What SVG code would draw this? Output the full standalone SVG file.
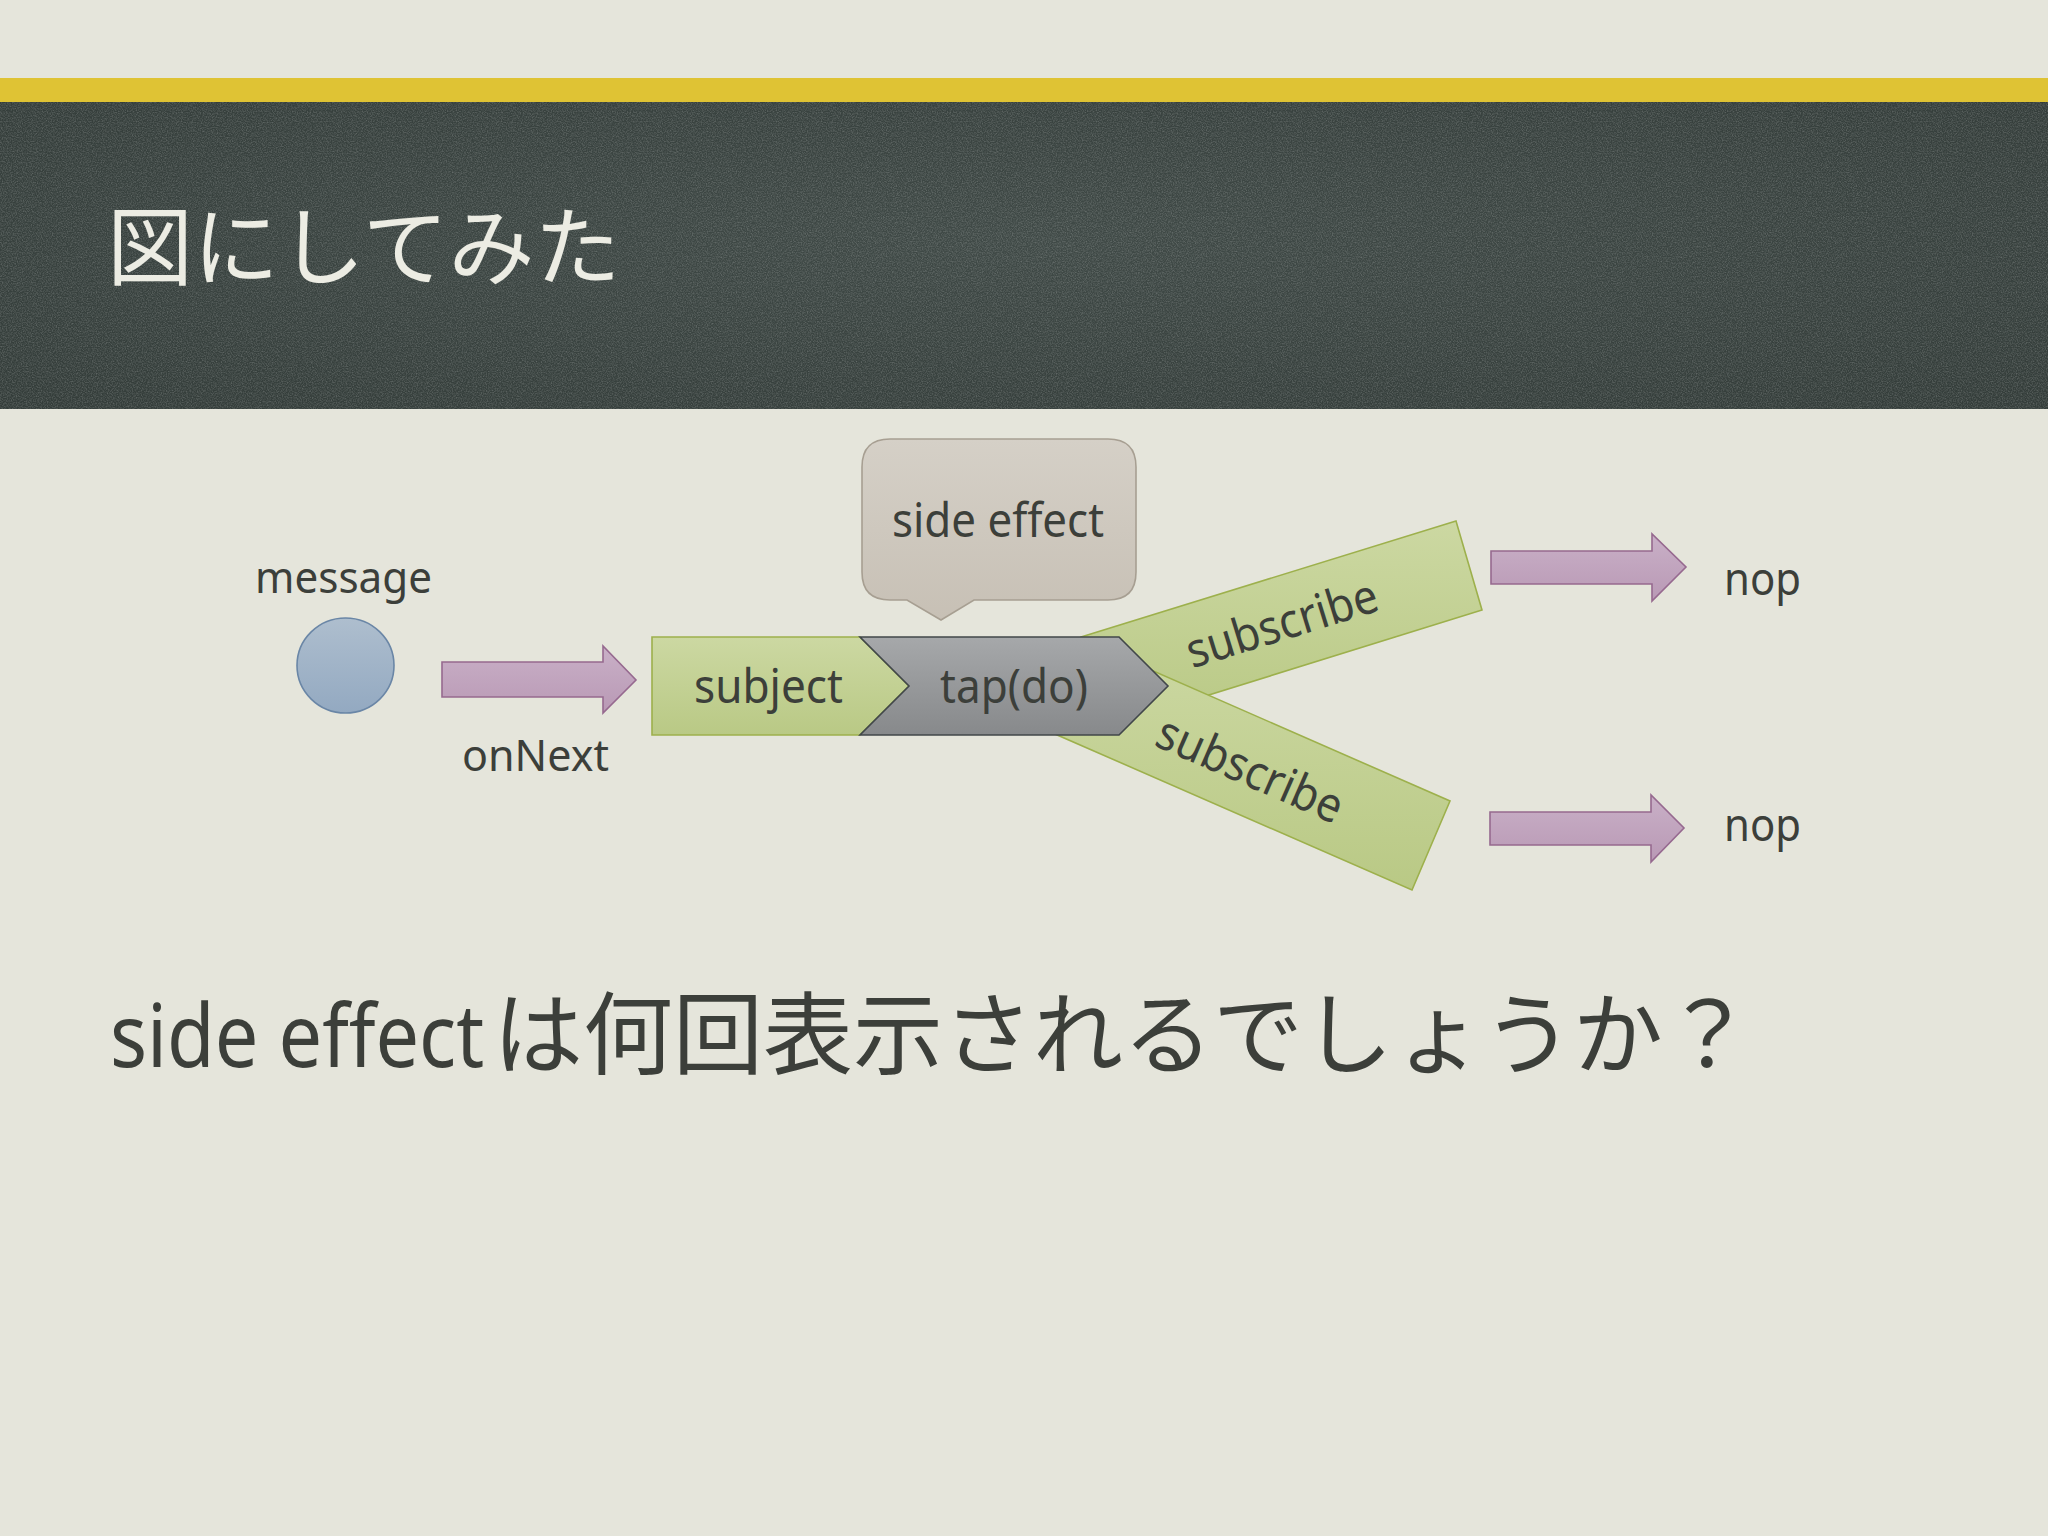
<svg xmlns="http://www.w3.org/2000/svg" width="2048" height="1536" viewBox="0 0 2048 1536">
  <defs>
    <style>
      .lbl { font-family: "Noto Sans", "Noto Sans CJK JP", sans-serif; fill: #3C3F3A; }
      .jp { font-family: "Noto Sans CJK JP", "Noto Sans", sans-serif; fill: #3C3F3A; }
      .green { fill: url(#gGreen); stroke: #9DB04C; stroke-width: 1.6; }
      .pink { fill: url(#gPink); stroke: #96698F; stroke-width: 1.6; }
    </style>
    <linearGradient id="gGreen" x1="0" y1="0" x2="0" y2="1">
      <stop offset="0" stop-color="#CCD8A2"/>
      <stop offset="1" stop-color="#B9C985"/>
    </linearGradient>
    <linearGradient id="gGray" x1="0" y1="0" x2="0" y2="1">
      <stop offset="0" stop-color="#A6A8AA"/>
      <stop offset="1" stop-color="#87898B"/>
    </linearGradient>
    <linearGradient id="gCallout" x1="0" y1="0" x2="0" y2="1">
      <stop offset="0" stop-color="#D5D0C7"/>
      <stop offset="1" stop-color="#C7C0B5"/>
    </linearGradient>
    <linearGradient id="gPink" x1="0" y1="0" x2="0" y2="1">
      <stop offset="0" stop-color="#C9B0C7"/>
      <stop offset="1" stop-color="#B999B5"/>
    </linearGradient>
    <linearGradient id="gBlue" x1="0" y1="0" x2="0" y2="1">
      <stop offset="0" stop-color="#AEBECE"/>
      <stop offset="1" stop-color="#93A9C1"/>
    </linearGradient>
    <radialGradient id="gBoard" cx="0.5" cy="0.45" r="0.7">
      <stop offset="0" stop-color="#404A47"/>
      <stop offset="1" stop-color="#343D3A"/>
    </radialGradient>
    <filter id="chalk" x="0" y="0" width="1" height="1">
      <feTurbulence type="fractalNoise" baseFrequency="0.8" numOctaves="2" seed="7" result="n"/>
      <feColorMatrix in="n" type="matrix" values="0 0 0 0 1  0 0 0 0 1  0 0 0 0 1  0.4 0 0 0 -0.15"/>
    </filter>
  </defs>

  <!-- background -->
  <rect x="0" y="0" width="2048" height="1536" fill="#E5E5DB"/>
  <rect x="0" y="78" width="2048" height="24" fill="#DFC334"/>
  <rect x="0" y="102" width="2048" height="307" fill="url(#gBoard)"/>
  <rect x="0" y="102" width="2048" height="307" fill="#FFFFFF" filter="url(#chalk)"/>

  <text x="107" y="279" font-family="'Noto Sans CJK JP', sans-serif" font-size="86" fill="#ECECE3">図にしてみた</text>

  <g id="message">
    <ellipse cx="345.5" cy="665.5" rx="48.5" ry="47.5" fill="url(#gBlue)" stroke="#6A86A6" stroke-width="1.6"/>
    <text class="lbl" x="255" y="593" font-size="44" textLength="177" lengthAdjust="spacingAndGlyphs">message</text>
  </g>

  <g id="connectors">
    <g id="onNext">
      <polygon class="pink" points="442,662 603,662 603,646 636,680 603,713 603,697 442,697"/>
      <text class="lbl" x="462" y="771" font-size="44" textLength="147" lengthAdjust="spacingAndGlyphs">onNext</text>
    </g>
    <polygon class="pink" points="1491,551 1652,551 1652,534 1686,567 1652,601 1652,584 1491,584"/>
    <polygon class="pink" points="1490,812 1651,812 1651,795 1684,828 1651,862 1651,845 1490,845"/>
  </g>

  <g id="subscribe-upper">
    <polygon class="green" points="1081,637 1456,521 1482,610 1109,726"/>
    <text class="lbl" font-size="48" text-anchor="middle" textLength="198" lengthAdjust="spacingAndGlyphs" transform="translate(1282,624) rotate(-17.2)" y="16">subscribe</text>
  </g>

  <g id="subscribe-lower">
    <polygon class="green" points="1094,645 1450,801 1412,890 1055,734"/>
    <text class="lbl" font-size="48" text-anchor="middle" textLength="198" lengthAdjust="spacingAndGlyphs" transform="translate(1250,770) rotate(23.6)" y="16">subscribe</text>
  </g>

  <g id="subject">
    <polygon class="green" points="652,637 860,637 909,686 860,735 652,735"/>
    <text class="lbl" x="694" y="703" font-size="48" textLength="149" lengthAdjust="spacingAndGlyphs">subject</text>
  </g>

  <g id="tap">
    <polygon points="860,637 1119,637 1168,686 1119,735 860,735 909,686" fill="url(#gGray)" stroke="#41474A" stroke-width="1.6"/>
    <text class="lbl" x="940" y="703" font-size="48" textLength="148" lengthAdjust="spacingAndGlyphs">tap(do)</text>
  </g>

  <g id="side-effect">
    <path d="M890,439 H1108 Q1136,439 1136,467 V572 Q1136,600 1108,600 H974 L941,620 L907,600 H890 Q862,600 862,572 V467 Q862,439 890,439 Z" fill="url(#gCallout)" stroke="#A79F92" stroke-width="1.6"/>
    <text class="lbl" x="892" y="537" font-size="48" textLength="212" lengthAdjust="spacingAndGlyphs">side effect</text>
  </g>

  <g id="nop-upper">
    <text class="lbl" x="1724" y="595" font-size="46" textLength="77" lengthAdjust="spacingAndGlyphs">nop</text>
  </g>
  <g id="nop-lower">
    <text class="lbl" x="1724" y="841" font-size="46" textLength="77" lengthAdjust="spacingAndGlyphs">nop</text>
  </g>

  <g id="question">
    <text class="lbl" font-size="88" transform="translate(110,1067) scale(0.88,1)">side effect</text>
    <text class="jp" x="493" y="1067" font-size="90">は何回表示されるでしょうか？</text>
  </g>
</svg>
